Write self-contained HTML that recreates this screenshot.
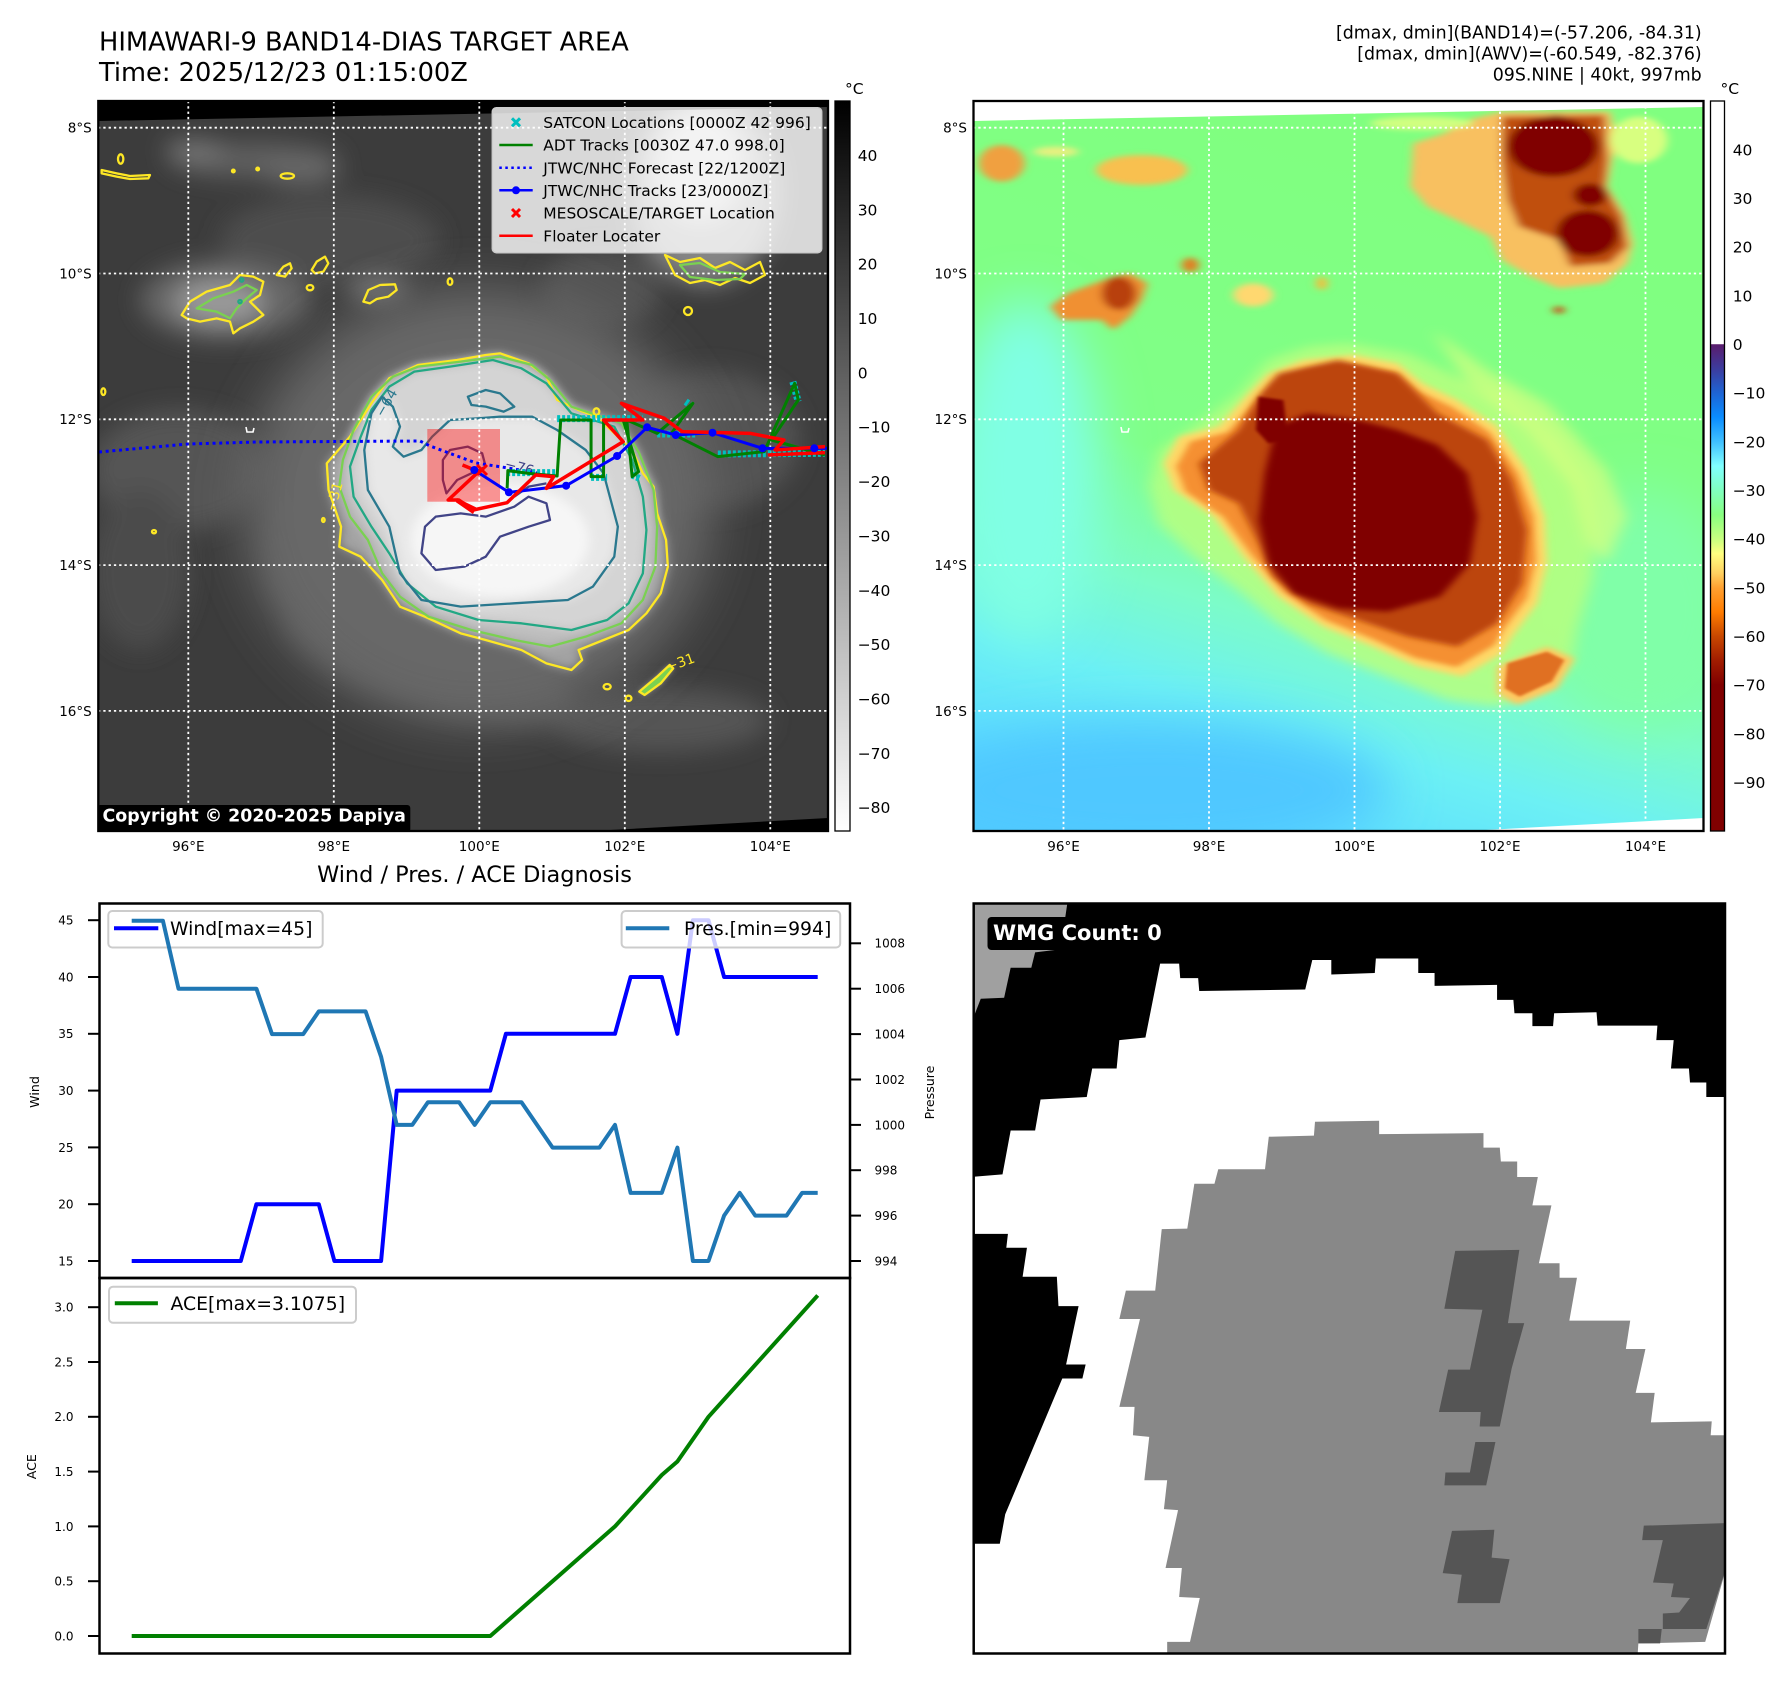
<!DOCTYPE html>
<html><head><meta charset="utf-8">
<style>
html,body{margin:0;padding:0;background:#fff;}
svg{display:block;}
.ns *{vector-effect:non-scaling-stroke;}
text{font-family:"DejaVu Sans","Liberation Sans",sans-serif;}
</style></head><body>
<svg width="1792" height="1690" viewBox="0 0 1792 1690" xmlns="http://www.w3.org/2000/svg">
<defs>
 <filter id="b4" x="-50%" y="-50%" width="200%" height="200%"><feGaussianBlur stdDeviation="4"/></filter>
 <filter id="b8" x="-50%" y="-50%" width="200%" height="200%"><feGaussianBlur stdDeviation="8"/></filter>
 <filter id="b12" x="-50%" y="-50%" width="200%" height="200%"><feGaussianBlur stdDeviation="12"/></filter>
 <filter id="b15" x="-50%" y="-50%" width="200%" height="200%"><feGaussianBlur stdDeviation="15"/></filter>
 <filter id="b25" x="-50%" y="-50%" width="200%" height="200%"><feGaussianBlur stdDeviation="25"/></filter>
 <clipPath id="cL"><rect x="98.3" y="101" width="729.7" height="730"/></clipPath>
 <clipPath id="cR"><rect x="973.5" y="101" width="730" height="730"/></clipPath>
 <clipPath id="cP"><rect x="973.7" y="903.5" width="751.3" height="750"/></clipPath>
 <linearGradient id="gcb1" x1="0" y1="0" x2="0" y2="1"><stop offset="0" stop-color="#000"/><stop offset="1" stop-color="#fff"/></linearGradient>
 <linearGradient id="gcb2" x1="0" y1="0" x2="0" y2="1">
  <stop offset="0" stop-color="#fff"/><stop offset="0.333" stop-color="#fff"/>
  <stop offset="0.3334" stop-color="#5a1c6c"/><stop offset="0.367" stop-color="#3c3c9e"/>
  <stop offset="0.4" stop-color="#1e64d4"/><stop offset="0.433" stop-color="#0a8cff"/>
  <stop offset="0.467" stop-color="#40c0ff"/><stop offset="0.5" stop-color="#80ffff"/>
  <stop offset="0.533" stop-color="#80ffc0"/><stop offset="0.567" stop-color="#88ff80"/>
  <stop offset="0.6" stop-color="#c8ff80"/><stop offset="0.62" stop-color="#ffff80"/>
  <stop offset="0.647" stop-color="#ffd060"/><stop offset="0.667" stop-color="#ffa030"/>
  <stop offset="0.7" stop-color="#ff7c00"/><stop offset="0.733" stop-color="#c84800"/>
  <stop offset="0.767" stop-color="#a01c00"/><stop offset="0.8" stop-color="#800000"/>
  <stop offset="1" stop-color="#800000"/>
 </linearGradient>
 <linearGradient id="gbgR" x1="0.3" y1="0" x2="0" y2="1">
  <stop offset="0" stop-color="#80ff80"/><stop offset="0.45" stop-color="#80ff88"/>
  <stop offset="0.62" stop-color="#7cfcc8"/><stop offset="0.75" stop-color="#6cf0f4"/>
  <stop offset="0.9" stop-color="#5cdcff"/><stop offset="1" stop-color="#50ccff"/>
 </linearGradient>
 <path id="rB" d="M790,75 L880,100 L930,160 L1000,210 L1080,290 L1140,420 L1175,560 L1180,700 L1160,820 L1110,920 L1090,970 L1010,1040 L920,1010 L830,950 L730,890 L640,800 L570,680 L510,560 L430,480 L410,400 L440,320 L520,290 L580,190 L620,130 L690,90 Z"/>
</defs>

<!-- Titles -->
<text x="99" y="50.3" font-size="25.7">HIMAWARI-9 BAND14-DIAS TARGET AREA</text>
<text x="99" y="80.8" font-size="25.7">Time: 2025/12/23 01:15:00Z</text>
<text x="1701.7" y="38.4" font-size="17.4" text-anchor="end">[dmax, dmin](BAND14)=(-57.206, -84.31)</text>
<text x="1701.7" y="59.4" font-size="17.4" text-anchor="end">[dmax, dmin](AWV)=(-60.549, -82.376)</text>
<text x="1701.7" y="80.4" font-size="17.4" text-anchor="end">09S.NINE | 40kt, 997mb</text>

<!-- ================= LEFT MAP ================= -->
<g clip-path="url(#cL)">
 <rect x="98.3" y="101" width="729.7" height="730" fill="#3c3c3c"/>
 <g filter="url(#b12)">
  <ellipse cx="255" cy="160" rx="85" ry="18" fill="#5e5e5e"/>
  <ellipse cx="195" cy="150" rx="30" ry="10" fill="#787878"/>
  <ellipse cx="300" cy="172" rx="40" ry="12" fill="#6a6a6a"/>
  <ellipse cx="330" cy="240" rx="110" ry="45" fill="#4e4e4e"/>
  <ellipse cx="225" cy="300" rx="85" ry="40" fill="#666"/>
  <ellipse cx="220" cy="302" rx="45" ry="22" fill="#9a9a9a"/>
  <ellipse cx="380" cy="292" rx="30" ry="14" fill="#767676"/>
  <ellipse cx="705" cy="190" rx="75" ry="95" fill="#858585"/>
  <ellipse cx="700" cy="165" rx="45" ry="55" fill="#c4c4c4"/>
  <ellipse cx="600" cy="290" rx="60" ry="40" fill="#525252"/>
  <ellipse cx="180" cy="470" rx="90" ry="60" fill="#545454"/>
  <ellipse cx="140" cy="570" rx="50" ry="80" fill="#4c4c4c"/>
  <ellipse cx="710" cy="440" rx="90" ry="70" fill="#525252"/>
  <ellipse cx="430" cy="660" rx="150" ry="45" fill="#585858" transform="rotate(18 430 660)"/>
  <ellipse cx="660" cy="720" rx="110" ry="32" fill="#545454"/>
  <ellipse cx="330" cy="560" rx="60" ry="70" fill="#5a5a5a"/>
 </g>
 <ellipse cx="478" cy="505" rx="235" ry="218" fill="#676767" filter="url(#b25)"/>
 <g transform="translate(300,340) scale(0.35714,0.33333)">
  <path fill="#a3a3a3" filter="url(#b15)" d="M520,45 L440,60 L330,75 L250,115 L200,190 L140,290 L75,370 L80,450 L115,560 L110,620 L170,650 L230,720 L280,800 L350,830 L450,880 L520,900 L620,930 L690,970 L760,990 L790,960 L780,930 L850,900 L920,870 L970,820 L1010,760 L1030,680 L1025,600 L1000,520 L990,440 L960,400 L930,330 L880,280 L830,230 L780,210 L720,180 L690,110 L640,70 L560,40 Z"/>
  <path fill="#bdbdbd" filter="url(#b15)" d="M330,80 L450,65 L560,50 L650,75 L700,120 L760,200 L900,250 L950,340 L990,450 L1000,560 L995,680 L960,780 L900,850 L800,890 L700,920 L600,900 L480,870 L360,830 L280,770 L230,700 L190,600 L140,530 L110,440 L120,360 L150,270 L200,170 L260,110 Z"/>
  <path fill="#d4d4d4" filter="url(#b15)" d="M320,95 L420,80 L540,60 L620,85 L690,130 L760,220 L880,260 L930,360 L960,470 L970,570 L960,700 L920,790 L860,840 L760,870 L620,850 L500,840 L380,800 L300,730 L250,640 L200,560 L150,470 L140,380 L170,290 L200,210 L250,140 Z"/>
  <path fill="#e8e8e8" filter="url(#b15)" d="M180,330 L190,450 L250,560 L280,700 L340,780 L450,800 L600,790 L750,780 L820,740 L880,650 L890,560 L870,480 L850,400 L800,330 L720,270 L650,230 L560,230 L500,235 L420,240 L370,290 L340,330 L290,350 L260,320 L280,260 L260,200 L230,170 L200,220 Z"/>
  <ellipse cx="560" cy="600" rx="250" ry="170" fill="#f6f6f6" filter="url(#b15)"/>
  <path fill="#9a9a9a" filter="url(#b8)" d="M950,1055 L1000,1010 L1035,975 L1045,985 L1010,1030 L965,1065 Z"/>
 </g>
 <!-- no-data wedges -->
 <polygon points="98,100 829,100 829,107 98,121" fill="#000"/>
 <polygon points="574,832 829,818 829,832" fill="#000"/>
 <!-- storm contours -->
 <g class="ns" transform="translate(300,340) scale(0.35714,0.33333)" fill="none" stroke-width="2.3" stroke-linejoin="round">
  <path stroke="#fde725" d="M520,45 L440,60 L330,75 L250,115 L200,190 L140,290 L75,370 L80,450 L115,560 L110,620 L170,650 L230,720 L280,800 L350,830 L450,880 L520,900 L620,930 L690,970 L760,990 L790,960 L780,930 L850,900 L920,870 L970,820 L1010,760 L1030,680 L1025,600 L1000,520 L990,440 L960,400 L930,330 L880,280 L830,230 L780,210 L720,180 L690,110 L640,70 L560,40 Z"/>
  <path stroke="#7ad151" d="M330,80 L450,65 L560,50 L650,75 L700,120 L760,200 L900,250 L950,340 L990,450 L1000,560 L995,680 L960,780 L900,850 L800,890 L700,920 L600,900 L480,870 L360,830 L280,770 L230,700 L190,600 L140,530 L110,440 L120,360 L150,270 L200,170 L260,110 Z"/>
  <path stroke="#22a884" d="M320,95 L420,80 L540,60 L620,85 L690,130 L760,220 L880,260 L930,360 L960,470 L970,570 L960,700 L920,790 L860,840 L760,870 L620,850 L500,840 L380,800 L300,730 L250,640 L200,560 L150,470 L140,380 L170,290 L200,210 L250,140 Z"/>
  <path stroke="#2a788e" d="M180,330 L190,450 L250,560 L280,700 L340,780 L450,800 L600,790 L750,780 L820,740 L880,650 L890,560 L870,480 L850,400 L800,330 L720,270 L650,230 L560,230 L500,235 L420,240 L370,290 L340,330 L290,350 L260,320 L280,260 L260,200 L230,170 L200,220 Z"/>
  <path stroke="#2a788e" d="M470,170 L520,150 L560,160 L600,200 L570,215 L520,200 L480,195 Z"/>
  <path stroke="#414487" d="M400,360 L420,330 L470,320 L510,340 L520,380 L480,400 L440,420 L410,460 L400,420 Z"/>
  <path stroke="#414487" d="M350,560 L380,530 L450,520 L520,530 L600,500 L640,470 L690,490 L700,540 L640,560 L560,590 L520,650 L460,680 L380,690 L340,640 Z"/>
  <path stroke="#414487" d="M600,470 L640,440 L690,430"/>
  <path stroke="#fde725" fill="#7ad151" d="M950,1055 L1000,1010 L1035,975 L1045,985 L1010,1030 L965,1065 Z"/>
  <ellipse cx="860" cy="1040" rx="10" ry="8" stroke="#fde725"/>
  <ellipse cx="920" cy="1075" rx="8" ry="8" stroke="#fde725"/>
  <ellipse cx="830" cy="215" rx="8" ry="10" stroke="#fde725"/>
 </g>
 <!-- other contours -->
 <g class="ns" transform="translate(90,95) scale(0.33333)" fill="none" stroke-width="2.3" stroke-linejoin="round">
  <path stroke="#fde725" d="M275,660 L300,620 L350,590 L420,570 L450,540 L490,545 L520,560 L510,600 L480,620 L520,660 L490,680 L450,700 L430,715 L420,680 L380,670 L330,680 L290,670 Z"/>
  <path stroke="#7ad151" d="M320,640 L370,610 L430,590 L470,570 L500,585 L470,610 L440,640 L420,670 L380,650 Z"/>
  <path stroke="#fde725" d="M560,540 L580,515 L600,505 L605,520 L585,545 Z"/>
  <path stroke="#fde725" d="M665,525 L680,500 L705,485 L715,505 L700,530 L675,535 Z"/>
  <path stroke="#fde725" d="M820,620 L835,585 L870,570 L915,568 L920,585 L895,605 L860,612 L840,625 Z"/>
  <ellipse cx="660" cy="578" rx="10" ry="8" stroke="#fde725"/>
  <ellipse cx="1080" cy="560" rx="7" ry="10" stroke="#fde725"/>
  <path stroke="#fde725" d="M35,225 L80,235 L120,243 L180,240 L175,250 L120,252 L80,245 L35,235 Z"/>
  <ellipse cx="92" cy="192" rx="8" ry="14" stroke="#fde725"/>
  <ellipse cx="592" cy="243" rx="20" ry="8" stroke="#fde725"/>
  <ellipse cx="430" cy="228" rx="4" ry="4" stroke="#fde725"/>
  <ellipse cx="503" cy="222" rx="4" ry="4" stroke="#fde725"/>
  <ellipse cx="192" cy="1310" rx="6" ry="5" stroke="#fde725"/>
  <ellipse cx="700" cy="1275" rx="4" ry="6" stroke="#fde725"/>
  <ellipse cx="40" cy="890" rx="6" ry="10" stroke="#fde725"/>
  <circle cx="455" cy="555" r="5" stroke="#22a884"/>
  <circle cx="450" cy="620" r="5" stroke="#22a884"/>
 </g>
 <g fill="none" stroke-width="2.3" stroke-linejoin="round">
  <path stroke="#fde725" d="M665,255 L680,262 L700,258 L715,268 L730,262 L745,270 L760,262 L765,275 L750,283 L735,278 L720,285 L705,280 L690,283 L675,275 Z"/>
  <path stroke="#7ad151" d="M680,265 L700,263 L720,272 L745,274 L740,279 L715,280 L690,277 Z"/>
  <circle cx="688" cy="311" r="4" stroke="#fde725"/>
 </g>
 <path d="M246,427 L247,432 L253,432 L254,428" stroke="#fff" stroke-width="1.6" fill="none"/>
 <!-- contour labels -->
 <text x="504" y="468" font-size="14" fill="#414487" transform="rotate(15 504 468)">−76</text>
 <text x="383" y="418" font-size="14" fill="#2a788e" transform="rotate(-60 383 418)">−64</text>
 <text x="668" y="672" font-size="14" fill="#fde725" transform="rotate(-20 668 672)">−31</text>
 <text x="335" y="512" font-size="14" fill="#fde725" transform="rotate(-75 335 512)">−31</text>
 <!-- target square -->
 <rect x="427.3" y="429" width="72.7" height="72.7" fill="rgba(255,0,0,0.4)"/>
 <!-- gridlines -->
 <g stroke="#fff" stroke-width="1.8" stroke-dasharray="2.3 3">
  <line x1="188.3" y1="101" x2="188.3" y2="831"/><line x1="333.8" y1="101" x2="333.8" y2="831"/>
  <line x1="479.3" y1="101" x2="479.3" y2="831"/><line x1="624.8" y1="101" x2="624.8" y2="831"/>
  <line x1="770.3" y1="101" x2="770.3" y2="831"/>
  <line x1="98" y1="127.7" x2="828" y2="127.7"/><line x1="98" y1="273.5" x2="828" y2="273.5"/>
  <line x1="98" y1="419.3" x2="828" y2="419.3"/><line x1="98" y1="565.1" x2="828" y2="565.1"/>
  <line x1="98" y1="710.9" x2="828" y2="710.9"/>
 </g>
 <!-- forecast dotted -->
 <polyline points="99,452 188,444 257,442 420,441 430,446 476,463 508,468 537,473" fill="none" stroke="#0000ff" stroke-width="3" stroke-dasharray="3 3.7"/>
 <!-- tracks -->
 <g class="ns" transform="translate(300,340) scale(0.35714,0.33333)" fill="none" stroke-linejoin="round">
  <g stroke="#00bfbf" stroke-width="7" stroke-dasharray="3 2">
   <line x1="720" y1="236" x2="960" y2="236"/><line x1="580" y1="398" x2="720" y2="398"/>
   <line x1="1000" y1="282" x2="1110" y2="282"/><line x1="1170" y1="342" x2="1470" y2="340"/>
   <line x1="815" y1="412" x2="860" y2="412"/><line x1="1380" y1="125" x2="1395" y2="185"/>
   <line x1="1080" y1="185" x2="1100" y2="200"/><line x1="930" y1="405" x2="950" y2="415"/>
  </g>
  <path stroke="#008000" stroke-width="3" d="M580,445 L582,392 L640,400 L720,408 L730,240 L815,240 L815,410 L850,410 L850,240 L905,240 L948,395 L930,410 L915,240 L1000,280 L1100,190 L1040,280 L1170,350 L1300,335 L1385,130 L1395,180 L1320,300 L1470,345"/>
  <path stroke="#0000ff" stroke-width="3" d="M488,390 L585,457 L745,437 L888,348 L972,262 L1052,285 L1155,278 L1295,325 L1440,325 L1480,325"/>
  <path stroke="#ff0000" stroke-width="3.5" d="M455,375 L500,395 L415,480 L445,480 L485,510 L580,488 L660,405 L710,410 L690,445 L905,305 L850,240 L960,240 L900,190 L1020,235 L1070,275 L1260,280 L1355,300 L1330,330 L1470,320"/>
  <path stroke="#ff0000" stroke-width="3.5" d="M1310,345 L1470,338"/>
  <polygon points="440,476 492,503 484,520 438,486" fill="#ff0000" stroke="#ff0000" stroke-width="1"/>
 </g>
 <g fill="#0000ff">
  <circle cx="474.3" cy="470" r="4"/><circle cx="508.9" cy="492.3" r="4"/><circle cx="566.1" cy="485.7" r="4"/>
  <circle cx="617.1" cy="456" r="4"/><circle cx="647.1" cy="427.3" r="4"/><circle cx="675.7" cy="435" r="4"/>
  <circle cx="712.5" cy="432.7" r="4"/><circle cx="762.5" cy="448.3" r="4"/><circle cx="814.3" cy="448.3" r="4"/>
 </g>
 <g stroke="#ff0000" stroke-width="3"><line x1="477" y1="465" x2="487" y2="475"/><line x1="487" y1="465" x2="477" y2="475"/></g>
 <!-- legend -->
 <rect x="492.3" y="107.7" width="329.4" height="145" rx="4" fill="rgba(255,255,255,0.8)" stroke="#cccccc" stroke-width="1.5"/>
 <g stroke="#00bfbf" stroke-width="3"><line x1="512" y1="118.3" x2="520" y2="126.3"/><line x1="520" y1="118.3" x2="512" y2="126.3"/></g>
 <line x1="499.3" y1="145" x2="532.7" y2="145" stroke="#008000" stroke-width="2.5"/>
 <line x1="499.3" y1="167.7" x2="532.7" y2="167.7" stroke="#0000ff" stroke-width="2.5" stroke-dasharray="2.5 3.5"/>
 <line x1="499.3" y1="190.3" x2="532.7" y2="190.3" stroke="#0000ff" stroke-width="2.5"/>
 <circle cx="516" cy="190.3" r="4" fill="#0000ff"/>
 <g stroke="#ff0000" stroke-width="3"><line x1="512" y1="209" x2="520" y2="217"/><line x1="520" y1="209" x2="512" y2="217"/></g>
 <line x1="499.3" y1="235.7" x2="532.7" y2="235.7" stroke="#ff0000" stroke-width="2.5"/>
 <g font-size="15.5" fill="#000">
  <text x="543.3" y="127.9">SATCON Locations [0000Z 42 996]</text>
  <text x="543.3" y="150.6">ADT Tracks [0030Z 47.0 998.0]</text>
  <text x="543.3" y="173.3">JTWC/NHC Forecast [22/1200Z]</text>
  <text x="543.3" y="195.9">JTWC/NHC Tracks [23/0000Z]</text>
  <text x="543.3" y="218.6">MESOSCALE/TARGET Location</text>
  <text x="543.3" y="241.3">Floater Locater</text>
 </g>
 <!-- copyright -->
 <rect x="97.3" y="805" width="313" height="27" rx="3" fill="#000"/>
 <text x="102.5" y="821.7" font-size="17.4" font-weight="bold" fill="#fff">Copyright © 2020-2025 Dapiya</text>
</g>
<rect x="98.3" y="101" width="729.7" height="730" fill="none" stroke="#000" stroke-width="2.3"/>

<!-- left map tick labels -->
<g font-size="13.5" fill="#000">
 <text x="91.7" y="132.6" text-anchor="end">8°S</text>
 <text x="91.7" y="278.4" text-anchor="end">10°S</text>
 <text x="91.7" y="424.2" text-anchor="end">12°S</text>
 <text x="91.7" y="570" text-anchor="end">14°S</text>
 <text x="91.7" y="715.8" text-anchor="end">16°S</text>
 <text x="188.3" y="851" text-anchor="middle">96°E</text>
 <text x="333.8" y="851" text-anchor="middle">98°E</text>
 <text x="479.3" y="851" text-anchor="middle">100°E</text>
 <text x="624.8" y="851" text-anchor="middle">102°E</text>
 <text x="770.3" y="851" text-anchor="middle">104°E</text>
</g>

<!-- colorbar 1 -->
<rect x="835" y="101" width="15" height="730" fill="url(#gcb1)" stroke="#000" stroke-width="1.3"/>
<text x="845" y="94" font-size="15.5">°C</text>
<g font-size="15.5" fill="#000">
 <text x="857.7" y="161">40</text><text x="857.7" y="215.3">30</text><text x="857.7" y="269.7">20</text>
 <text x="857.7" y="324">10</text><text x="857.7" y="378.4">0</text><text x="857.7" y="432.7">−10</text>
 <text x="857.7" y="487.1">−20</text><text x="857.7" y="541.4">−30</text><text x="857.7" y="595.8">−40</text>
 <text x="857.7" y="650.1">−50</text><text x="857.7" y="704.5">−60</text><text x="857.7" y="758.8">−70</text>
 <text x="857.7" y="813.2">−80</text>
</g>

<!-- ================= RIGHT MAP ================= -->
<g clip-path="url(#cR)">
 <rect x="973.5" y="101" width="730" height="730" fill="url(#gbgR)"/>
 <ellipse cx="1025" cy="470" rx="75" ry="170" fill="#80ffe4" filter="url(#b25)"/>
 <ellipse cx="1640" cy="610" rx="100" ry="120" fill="#80ffa8" filter="url(#b25)"/>
 <ellipse cx="1150" cy="790" rx="240" ry="70" fill="#50c8ff" filter="url(#b25)"/>
 <!-- upper clouds (zoom2 coords) -->
 <g transform="translate(896,0) scale(0.57143,0.33333)">
  <g filter="url(#b8)">
   <path fill="#f8c060" d="M905,430 L960,400 L1000,360 L1060,335 L1250,335 L1260,420 L1245,560 L1275,640 L1290,730 L1280,790 L1240,850 L1160,865 L1110,830 L1060,780 L1040,710 L980,660 L930,620 L900,560 Z"/>
   <path fill="#c05010" d="M1060,350 L1240,345 L1245,480 L1240,560 L1270,650 L1280,740 L1250,790 L1180,800 L1160,720 L1090,680 L1070,600 L1060,480 Z"/>
   <ellipse cx="1150" cy="440" rx="80" ry="90" fill="#800000"/>
   <ellipse cx="1210" cy="700" rx="55" ry="70" fill="#800000"/>
   <ellipse cx="1215" cy="585" rx="30" ry="35" fill="#800000"/>
   <ellipse cx="1155" cy="375" rx="25" ry="30" fill="#800000"/>
   <ellipse cx="1300" cy="420" rx="50" ry="70" fill="#d8ff80"/>
   <ellipse cx="920" cy="370" rx="90" ry="20" fill="#d0ff80"/>
   <path fill="#f09030" d="M270,920 L300,880 L380,830 L410,820 L440,850 L430,900 L410,950 L380,990 L360,960 L330,960 L290,960 Z"/>
   <ellipse cx="390" cy="880" rx="30" ry="50" fill="#b84010"/>
   <ellipse cx="185" cy="490" rx="40" ry="55" fill="#f0a040"/>
   <ellipse cx="430" cy="510" rx="80" ry="45" fill="#f8c050"/>
   <ellipse cx="280" cy="455" rx="40" ry="15" fill="#e8f080"/>
   <ellipse cx="625" cy="885" rx="35" ry="35" fill="#ffd870"/>
   <ellipse cx="515" cy="795" rx="15" ry="22" fill="#e08020"/>
   <ellipse cx="745" cy="850" rx="10" ry="20" fill="#f0c040"/>
   <ellipse cx="1160" cy="930" rx="10" ry="10" fill="#d04010"/>
  </g>
 </g>
 <!-- storm (zoom9 coords) -->
 <g transform="translate(960,330) scale(0.49744,0.33333)">
  <path fill="#b8ff80" opacity="0.85" filter="url(#b15)" d="M780,40 L900,70 L1000,140 L1100,200 L1200,330 L1260,450 L1280,600 L1270,750 L1240,900 L1230,1000 L1180,1080 L1080,1130 L980,1110 L860,1040 L740,970 L640,880 L560,780 L470,680 L400,580 L380,470 L400,360 L480,280 L560,190 L620,90 L700,50 Z"/>
  <path fill="#d8ff80" opacity="0.7" filter="url(#b15)" d="M950,0 L1060,120 L1180,220 L1300,420 L1340,560 L1300,700 L1260,640 L1230,470 L1140,300 L1020,160 Z"/>
  <use href="#rB" fill="#ffd868" filter="url(#b8)"/>
  <use href="#rB" fill="#f59030" filter="url(#b8)" transform="translate(820,560) scale(0.94) translate(-820,-560)"/>
  <path fill="#bc4408" filter="url(#b8)" d="M640,130 L760,90 L880,130 L960,250 L1060,330 L1110,450 L1140,600 L1130,760 L1080,880 L1000,950 L900,920 L800,870 L700,820 L630,740 L600,640 L560,520 L500,480 L480,400 L560,300 L600,200 Z"/>
  <path fill="#800000" filter="url(#b8)" d="M635,290 L700,250 L800,270 L880,300 L960,345 L1020,430 L1040,560 L1025,700 L965,800 L860,845 L760,835 L670,790 L620,700 L600,570 L612,430 Z"/>
  <path fill="#800000" filter="url(#b4)" d="M600,200 L650,210 L660,330 L620,340 L595,300 Z"/>
  <path fill="#ffc860" filter="url(#b8)" d="M1080,1010 L1180,950 L1235,985 L1200,1075 L1120,1125 L1080,1090 Z"/>
  <path fill="#e07020" filter="url(#b4)" d="M1100,1000 L1180,965 L1215,990 L1190,1055 L1125,1100 L1095,1075 Z"/>
 </g>
 <polygon points="973,100 1704,100 1704,107 973,121" fill="#fff"/>
 <polygon points="1449,832 1704,818 1704,832" fill="#fff"/>
 <path d="M1121,427 L1122,432 L1128,432 L1129,428" stroke="#fff" stroke-width="1.6" fill="none"/>
 <g stroke="#fff" stroke-width="1.8" stroke-dasharray="2.3 3">
  <line x1="1063.5" y1="101" x2="1063.5" y2="831"/><line x1="1209" y1="101" x2="1209" y2="831"/>
  <line x1="1354.5" y1="101" x2="1354.5" y2="831"/><line x1="1500" y1="101" x2="1500" y2="831"/>
  <line x1="1645.5" y1="101" x2="1645.5" y2="831"/>
  <line x1="973" y1="127.7" x2="1704" y2="127.7"/><line x1="973" y1="273.5" x2="1704" y2="273.5"/>
  <line x1="973" y1="419.3" x2="1704" y2="419.3"/><line x1="973" y1="565.1" x2="1704" y2="565.1"/>
  <line x1="973" y1="710.9" x2="1704" y2="710.9"/>
 </g>
</g>
<rect x="973.5" y="101" width="730" height="730" fill="none" stroke="#000" stroke-width="2.3"/>
<g font-size="13.5" fill="#000">
 <text x="967" y="132.6" text-anchor="end">8°S</text>
 <text x="967" y="278.4" text-anchor="end">10°S</text>
 <text x="967" y="424.2" text-anchor="end">12°S</text>
 <text x="967" y="570" text-anchor="end">14°S</text>
 <text x="967" y="715.8" text-anchor="end">16°S</text>
 <text x="1063.5" y="851" text-anchor="middle">96°E</text>
 <text x="1209" y="851" text-anchor="middle">98°E</text>
 <text x="1354.5" y="851" text-anchor="middle">100°E</text>
 <text x="1500" y="851" text-anchor="middle">102°E</text>
 <text x="1645.5" y="851" text-anchor="middle">104°E</text>
</g>

<!-- colorbar 2 -->
<rect x="1710.5" y="101" width="14" height="730" fill="url(#gcb2)" stroke="#000" stroke-width="1.3"/>
<text x="1720.5" y="94" font-size="15.5">°C</text>
<g font-size="15.5" fill="#000">
 <text x="1732.7" y="155.3">40</text><text x="1732.7" y="204">30</text><text x="1732.7" y="252.6">20</text>
 <text x="1732.7" y="301.3">10</text><text x="1732.7" y="350">0</text><text x="1732.7" y="398.6">−10</text>
 <text x="1732.7" y="447.3">−20</text><text x="1732.7" y="496">−30</text><text x="1732.7" y="544.6">−40</text>
 <text x="1732.7" y="593.3">−50</text><text x="1732.7" y="642">−60</text><text x="1732.7" y="690.6">−70</text>
 <text x="1732.7" y="739.3">−80</text><text x="1732.7" y="788">−90</text>
</g>

<!-- ================= WIND / PRES ================= -->
<text x="474.5" y="882" font-size="22.4" text-anchor="middle">Wind / Pres. / ACE Diagnosis</text>

<polyline points="131.7,1261 240.8,1261 256.4,1204.2 318.8,1204.2 334.4,1261 381.1,1261 396.7,1090.6 490.3,1090.6 505.9,1033.8 615.0,1033.8 630.6,977 661.8,977 677.4,1033.8 692.9,920.2 708.5,920.2 724.1,977 817.7,977" fill="none" stroke="#0000ff" stroke-width="4" stroke-linejoin="round"/>
<rect x="108.3" y="911" width="214.4" height="36.5" rx="4" fill="rgba(255,255,255,0.8)" stroke="#cccccc" stroke-width="2"/>
<line x1="114" y1="928.3" x2="158.3" y2="928.3" stroke="#0000ff" stroke-width="4"/>
<text x="170" y="935.2" font-size="18.8">Wind[max=45]</text>
<polyline points="131.7,920.7 162.9,920.7 178.5,988.7 256.4,988.7 272.0,1034.1 303.2,1034.1 318.8,1011.4 365.6,1011.4 381.1,1056.8 396.7,1124.9 412.3,1124.9 427.9,1102.2 459.1,1102.2 474.7,1124.9 490.3,1102.2 521.5,1102.2 537.0,1124.9 552.6,1147.6 599.4,1147.6 615.0,1124.9 630.6,1192.9 661.8,1192.9 677.4,1147.6 692.9,1261 708.5,1261 724.1,1215.6 739.7,1192.9 755.3,1215.6 786.5,1215.6 802.1,1192.9 817.7,1192.9" fill="none" stroke="#1f77b4" stroke-width="4" stroke-linejoin="round"/>
<rect x="621.6" y="911" width="218.6" height="36.5" rx="4" fill="rgba(255,255,255,0.8)" stroke="#cccccc" stroke-width="2"/>
<line x1="625.8" y1="928.3" x2="669.3" y2="928.3" stroke="#1f77b4" stroke-width="4"/>
<text x="684" y="935.2" font-size="18.8">Pres.[min=994]</text>

<rect x="99.5" y="903.5" width="750.5" height="374.5" fill="none" stroke="#000" stroke-width="2.5"/>
<g stroke="#000" stroke-width="2">
 <line x1="88" y1="1261" x2="99.5" y2="1261"/><line x1="88" y1="1204.2" x2="99.5" y2="1204.2"/>
 <line x1="88" y1="1147.4" x2="99.5" y2="1147.4"/><line x1="88" y1="1090.6" x2="99.5" y2="1090.6"/>
 <line x1="88" y1="1033.8" x2="99.5" y2="1033.8"/><line x1="88" y1="977" x2="99.5" y2="977"/>
 <line x1="88" y1="920.2" x2="99.5" y2="920.2"/>
 <line x1="850" y1="1261" x2="861" y2="1261"/><line x1="850" y1="1215.6" x2="861" y2="1215.6"/>
 <line x1="850" y1="1170.2" x2="861" y2="1170.2"/><line x1="850" y1="1124.9" x2="861" y2="1124.9"/>
 <line x1="850" y1="1079.5" x2="861" y2="1079.5"/><line x1="850" y1="1034.1" x2="861" y2="1034.1"/>
 <line x1="850" y1="988.7" x2="861" y2="988.7"/><line x1="850" y1="943.3" x2="861" y2="943.3"/>
</g>
<g font-size="12" fill="#000">
 <text x="73.5" y="1265.4" text-anchor="end">15</text><text x="73.5" y="1208.6" text-anchor="end">20</text>
 <text x="73.5" y="1151.8" text-anchor="end">25</text><text x="73.5" y="1095" text-anchor="end">30</text>
 <text x="73.5" y="1038.2" text-anchor="end">35</text><text x="73.5" y="981.4" text-anchor="end">40</text>
 <text x="73.5" y="924.6" text-anchor="end">45</text>
 <text x="874.5" y="1265.4">994</text><text x="874.5" y="1220">996</text>
 <text x="874.5" y="1174.6">998</text><text x="874.5" y="1129.3">1000</text>
 <text x="874.5" y="1083.9">1002</text><text x="874.5" y="1038.5">1004</text>
 <text x="874.5" y="993.1">1006</text><text x="874.5" y="947.7">1008</text>
</g>
<text x="39" y="1092" font-size="12.6" text-anchor="middle" transform="rotate(-90 39 1092)">Wind</text>
<text x="934" y="1092.5" font-size="12.6" text-anchor="middle" transform="rotate(-90 934 1092.5)">Pressure</text>

<!-- ================= ACE ================= -->
<polyline points="131.7,1636 490.3,1636 615.0,1526.4 661.8,1475 677.4,1461.5 708.5,1416.8 817.7,1295.4" fill="none" stroke="#008000" stroke-width="4" stroke-linejoin="round"/>
<rect x="109" y="1286.7" width="247" height="36" rx="4" fill="rgba(255,255,255,0.8)" stroke="#cccccc" stroke-width="2"/>
<line x1="114.8" y1="1303.3" x2="157.9" y2="1303.3" stroke="#008000" stroke-width="4"/>
<text x="170.5" y="1310.2" font-size="18.8">ACE[max=3.1075]</text>
<rect x="99.5" y="1278" width="750.5" height="375.5" fill="none" stroke="#000" stroke-width="2.5"/>
<g stroke="#000" stroke-width="2">
 <line x1="88" y1="1636" x2="99.5" y2="1636"/><line x1="88" y1="1581.2" x2="99.5" y2="1581.2"/>
 <line x1="88" y1="1526.4" x2="99.5" y2="1526.4"/><line x1="88" y1="1471.6" x2="99.5" y2="1471.6"/>
 <line x1="88" y1="1416.8" x2="99.5" y2="1416.8"/><line x1="88" y1="1362" x2="99.5" y2="1362"/>
 <line x1="88" y1="1307.2" x2="99.5" y2="1307.2"/>
</g>
<g font-size="12" fill="#000">
 <text x="73.5" y="1640.4" text-anchor="end">0.0</text><text x="73.5" y="1585.6" text-anchor="end">0.5</text>
 <text x="73.5" y="1530.8" text-anchor="end">1.0</text><text x="73.5" y="1476" text-anchor="end">1.5</text>
 <text x="73.5" y="1421.2" text-anchor="end">2.0</text><text x="73.5" y="1366.4" text-anchor="end">2.5</text>
 <text x="73.5" y="1311.6" text-anchor="end">3.0</text>
</g>
<text x="36" y="1466.7" font-size="12.6" text-anchor="middle" transform="rotate(-90 36 1466.7)">ACE</text>

<!-- ================= WMG PANEL ================= -->
<g clip-path="url(#cP)">
 <rect x="973.7" y="903.5" width="751.3" height="750" fill="#000"/>
 <g transform="translate(940,880) scale(0.54348,0.51653)">
  <polygon fill="#fff" points="405,162 440,162 442,190 475,190 477,215 672,212 685,155 720,155 720,183 800,180 802,152 880,152 880,180 910,180 910,205 1025,203 1025,232 1055,232 1057,258 1090,258 1090,283 1128,283 1130,258 1208,256 1210,282 1320,282 1318,310 1350,310 1345,365 1378,365 1380,392 1410,392 1410,420 1450,420 1450,1510 55,1510 55,1285 110,1285 120,1228 225,965 262,965 268,938 232,938 255,825 218,825 215,768 152,768 160,712 122,712 125,685 55,685 55,575 115,570 130,485 175,485 185,425 270,420 280,365 325,365 330,310 378,305"/>
  <polygon fill="#a0a0a0" points="55,40 235,40 228,90 215,135 175,140 168,170 130,170 118,228 75,230 62,265 55,265"/>
  <polygon fill="#888888" points="690,468 808,466 808,492 1000,490 1000,518 1030,518 1032,545 1062,545 1062,575 1100,575 1090,630 1125,630 1102,742 1140,742 1140,770 1172,770 1158,853 1270,853 1262,908 1298,908 1280,993 1315,993 1308,1050 1420,1048 1418,1075 1450,1075 1450,1320 1408,1475 1285,1478 1283,1510 418,1510 418,1475 460,1475 478,1390 440,1388 445,1332 415,1332 438,1220 412,1218 418,1162 376,1162 385,1078 355,1075 358,1020 330,1020 368,850 330,850 342,795 396,795 408,676 455,675 468,588 505,588 512,560 598,560 605,497 688,495"/>
  <g fill="#555555">
   <polygon points="948,718 1066,716 1045,858 1075,858 1052,945 1030,1058 993,1058 995,1030 918,1030 935,948 975,948 998,832 928,830"/>
   <polygon points="985,1088 1022,1088 1005,1172 928,1172 930,1147 975,1147"/>
   <polygon points="942,1260 1020,1258 1015,1312 1048,1315 1030,1400 952,1400 960,1345 925,1342"/>
   <polygon points="1295,1250 1450,1245 1450,1320 1410,1450 1330,1450 1330,1420 1360,1418 1380,1390 1345,1388 1350,1362 1312,1360 1330,1278 1292,1278"/>
   <polygon points="1285,1450 1328,1450 1325,1478 1285,1478"/>
  </g>
 </g>
 <rect x="987.5" y="917" width="180" height="33" rx="4" fill="#000"/>
 <text x="993" y="940" font-size="21" font-weight="bold" fill="#fff">WMG Count: 0</text>
</g>
<rect x="973.7" y="903.5" width="751.3" height="750" fill="none" stroke="#000" stroke-width="2.5"/>
</svg>
</body></html>
